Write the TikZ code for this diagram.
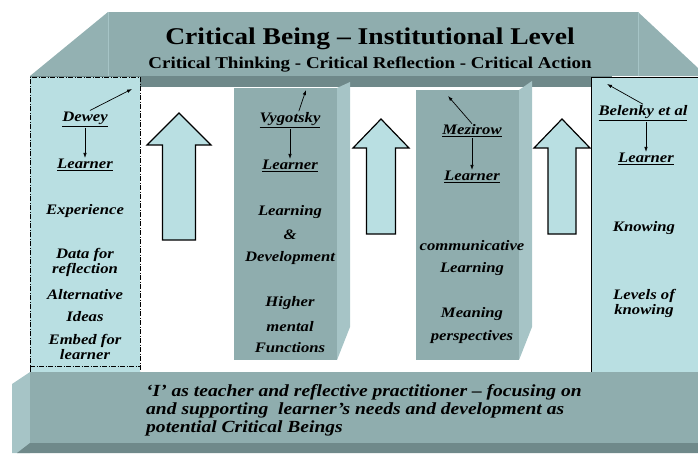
\documentclass[tikz,border=0pt]{standalone}
\usepackage{fontspec}
\setmainfont{Liberation Serif}[FakeStretch=1.15]
\usepackage{tikz}
\usetikzlibrary{arrows.meta}

\definecolor{roofgray}{HTML}{8FADAE}
\definecolor{roofend}{HTML}{93B1B2}
\definecolor{roofside}{HTML}{A6C4C6}
\definecolor{roofdark}{HTML}{6F898A}
\definecolor{paleblue}{HTML}{B9DFE2}

\tikzset{
  bigarrow/.style={fill=paleblue, draw=black, line width=1.2pt, line join=miter},
  coltext/.style={font=\fontsize{14.5}{15}\selectfont\bfseries\itshape, align=center, inner sep=1pt},
  link/.style={-{Latex[length=5pt,width=3.5pt]}, line width=0.7pt},
  dashdot/.style={line width=1pt, dash pattern=on 5pt off 1.5pt on 1pt off 1.5pt},
}

\begin{document}
\begin{tikzpicture}[x=1pt,y=-1pt]
  \useasboundingbox (0,0) rectangle (698,453);

  % roof
  \fill[roofend] (108,12) -- (30,76) -- (108,76) -- cycle;
  \fill[roofend] (638,12) -- (698,68) -- (698,76) -- (638,76) -- cycle;
  \fill[roofgray] (108,12) rectangle (638,76);
  \draw[roofside, line width=0.8pt] (108,12) -- (108,76) (638,12) -- (638,76);
  \fill[roofdark] (30,76) rectangle (612,87);

  % the two middle pillars
  \fill[roofgray] (234,88) rectangle (337,360);
  \fill[roofside] (337,88) -- (350,82) -- (350,327) -- (337,360) -- cycle;
  \fill[roofgray] (416,90) rectangle (519,360);
  \fill[roofside] (519,90) -- (532,81) -- (532,327) -- (519,360) -- cycle;

  % outer columns
  \fill[paleblue] (30,77) rectangle (140,372);
  \draw[dashdot] (30,372) -- (30,77) -- (140,77) -- (140,372);
  \draw[dashdot] (30,366) -- (140,366);
  \fill[paleblue] (591,77) rectangle (698,372);
  \draw[line width=1pt] (591,372) -- (591,77) -- (698,77);

  % block arrows
  \foreach \cx/\hw/\sw/\tip/\sh/\bot in {179/32/16.5/113/145/240, 381/28/14.5/119/148/234, 562/28/14/119/148/234}
    \draw[bigarrow] (\cx-\sw,\bot) -- (\cx-\sw,\sh) -- (\cx-\hw,\sh) -- (\cx,\tip)
      -- (\cx+\hw,\sh) -- (\cx+\sw,\sh) -- (\cx+\sw,\bot) -- cycle;

  % floor
  \fill[roofside] (30,372) -- (12,384) -- (12,453) -- (30,453) -- cycle;
  \fill[roofgray] (30,372) rectangle (698,443);
  \fill[roofdark] (30,443) -- (698,443) -- (698,453) -- (17,453) -- cycle;

  % headings
  \node[font=\fontsize{24}{24}\selectfont\bfseries] (title) at (370,39) {Critical Being -- Institutional Level};
  \node[font=\fontsize{16.5}{17}\selectfont\bfseries] (subtitle) at (370,65) {Critical Thinking - Critical Reflection - Critical Action};

  % Dewey
  \node[coltext] (dewey) at (85,119) {\underline{Dewey}};
  \node[coltext] (learnerD) at (85,165) {\underline{Learner}};
  \node[coltext] (experience) at (85,211) {Experience};
  \node[coltext] (data) at (85,262) {Data for\\reflection};
  \node[coltext] (alternative) at (85,295) {Alternative};
  \node[coltext] (ideas) at (85,317) {Ideas};
  \node[coltext] (embed) at (85,347) {Embed for\\learner};

  % Vygotsky
  \node[coltext] (vygotsky) at (290,120) {\underline{Vygotsky}};
  \node[coltext] (learnerV) at (290,166) {\underline{Learner}};
  \node[coltext] (learning) at (290,212) {Learning};
  \node[coltext] (amp) at (290,235) {\&};
  \node[coltext] (development) at (290,258) {Development};
  \node[coltext] (higher) at (290,303) {Higher};
  \node[coltext] (mental) at (290,327) {mental};
  \node[coltext] (functions) at (290,348) {Functions};

  % Mezirow
  \node[coltext] (mezirow) at (472,131) {\underline{Mezirow}};
  \node[coltext] (learnerM) at (472,177) {\underline{Learner}};
  \node[coltext] (communicative) at (472,246) {communicative};
  \node[coltext] (learningM) at (472,269) {Learning};
  \node[coltext] (meaning) at (472,314) {Meaning};
  \node[coltext] (perspectives) at (472,337) {perspectives};

  % Belenky
  \node[coltext] (belenky) at (643,113) {\underline{Belenky et al}};
  \node[coltext] (learnerB) at (646,159) {\underline{Learner}};
  \node[coltext] (knowing) at (644,228) {Knowing};
  \node[coltext] (levels) at (644,303) {Levels of\\knowing};

  % floor text
  \node[font=\fontsize{17}{18}\selectfont\bfseries\itshape, align=left, anchor=west, inner sep=0pt] (practice) at (146,410)
    {‘I’ as teacher and reflective practitioner -- focusing on\\and supporting\ \ learner’s needs and development as\\potential Critical Beings};

  % links up to the roof and down to the learner
  \coordinate (deweyTop) at (132,89);
  \coordinate (vygotskyTop) at (306,90);
  \coordinate (mezirowTop) at (448,96);
  \coordinate (belenkyTop) at (607,84);
  \path[link]
    (dewey.60) edge (deweyTop)
    (dewey) edge (learnerD)
    (vygotsky.45) edge (vygotskyTop)
    (vygotsky) edge (learnerV)
    (mezirow.north) edge (mezirowTop)
    (mezirow) edge (learnerM)
    (belenky.north) edge (belenkyTop)
    (belenky.south -| learnerB) edge (learnerB);
\end{tikzpicture}
\end{document}
